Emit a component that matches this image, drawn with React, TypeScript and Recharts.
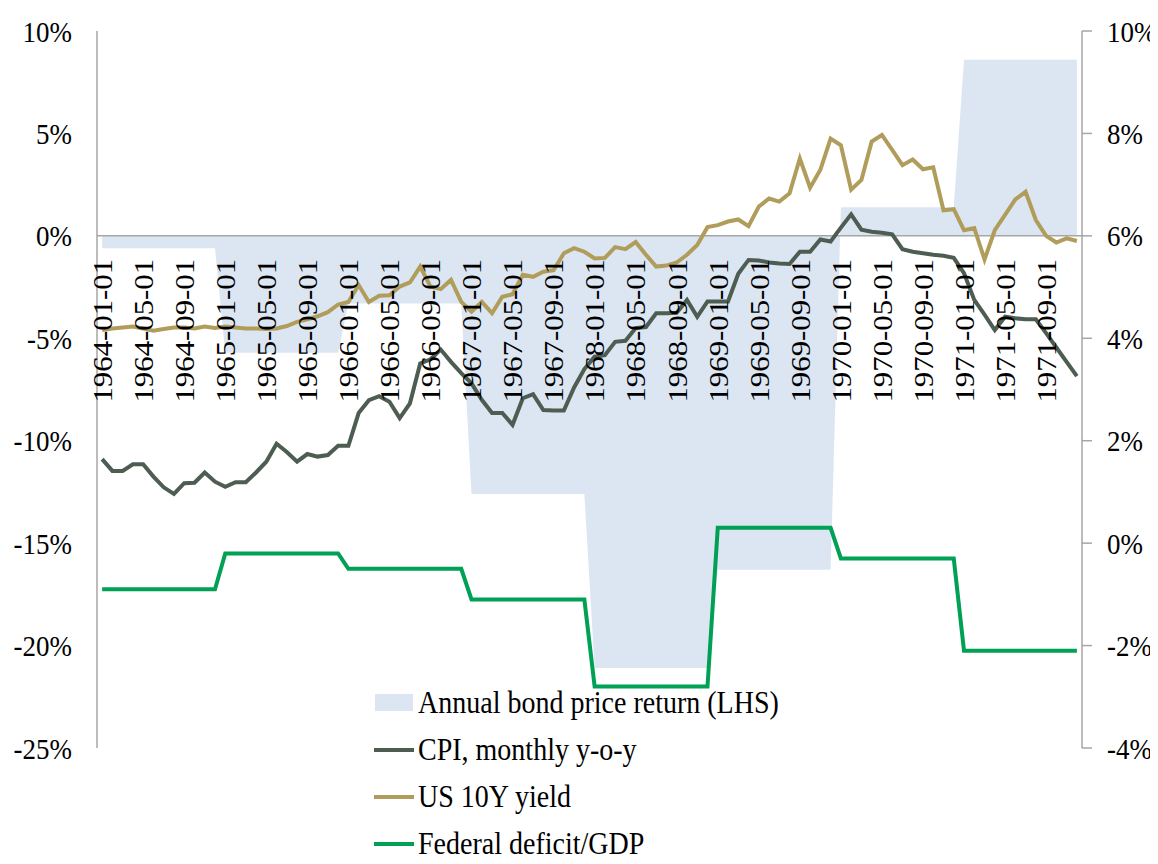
import {
  ComposedChart,
  Area,
  Line,
  XAxis,
  YAxis,
  ReferenceLine,
  ReferenceDot,
  Legend,
} from "recharts";

const FONT = '"Liberation Serif", "Times New Roman", serif';
const AREA_COLOR = "#dce6f2";
const CPI_COLOR = "#4d5d52";
const YIELD_COLOR = "#b19d5b";
const DEFICIT_COLOR = "#00a055";
const AXIS_COLOR = "#a6a6a6";
// the source text is drawn a little taller than it is wide
const STRETCH = 1.12;

// categories
const years = [1964, 1965, 1966, 1967, 1968, 1969, 1970, 1971];
const monthCodes = ["01", "02", "03", "04", "05", "06", "07", "08", "09", "10", "11", "12"];

// annual series (one value per calendar year)
const bondReturn = [-0.6, -5.7, -3.3, -12.6, -21.1, -16.3, 1.4, 8.6]; // LHS, %
const deficitGdp = [-0.9, -0.2, -0.5, -1.1, -2.8, 0.3, -0.3, -2.1]; // RHS, %

// monthly series (RHS, %)
const cpiYoy = [
  1.64, 1.41, 1.41, 1.54, 1.54, 1.3, 1.09, 0.96, 1.17, 1.18, 1.38, 1.2,
  1.1, 1.19, 1.19, 1.38, 1.59, 1.94, 1.78, 1.59, 1.74, 1.69, 1.72, 1.9,
  1.9, 2.54, 2.79, 2.87, 2.76, 2.44, 2.73, 3.51, 3.59, 3.78, 3.54, 3.32,
  3.12, 2.8, 2.54, 2.54, 2.31, 2.83, 2.91, 2.6, 2.59, 2.59, 3.04, 3.4,
  3.64, 3.67, 3.93, 3.95, 4.2, 4.22, 4.49, 4.49, 4.5, 4.75, 4.42, 4.72,
  4.72, 4.72, 5.26, 5.53, 5.52, 5.48, 5.46, 5.45, 5.69, 5.69, 5.93, 5.89,
  6.16, 6.42, 6.12, 6.08, 6.06, 6.03, 5.74, 5.69, 5.66, 5.63, 5.61, 5.57,
  5.27, 4.75, 4.46, 4.16, 4.42, 4.39, 4.37, 4.37, 4.1, 3.82, 3.54, 3.26,
];

const us10y = [
  4.16, 4.19, 4.21, 4.23, 4.19, 4.15, 4.18, 4.21, 4.21, 4.19, 4.23, 4.2,
  4.23, 4.21, 4.19, 4.19, 4.18, 4.19, 4.24, 4.32, 4.37, 4.43, 4.51, 4.66,
  4.71, 5.04, 4.71, 4.83, 4.84, 5.01, 5.09, 5.4, 5.01, 4.96, 5.14, 4.71,
  4.52, 4.71, 4.49, 4.81, 4.86, 5.24, 5.2, 5.3, 5.33, 5.66, 5.76, 5.69,
  5.56, 5.57, 5.78, 5.74, 5.88, 5.63, 5.4, 5.42, 5.48, 5.63, 5.82, 6.17,
  6.21, 6.28, 6.32, 6.19, 6.57, 6.73, 6.67, 6.83, 7.51, 6.94, 7.29, 7.9,
  7.77, 6.9, 7.09, 7.84, 7.97, 7.68, 7.38, 7.49, 7.3, 7.34, 6.5, 6.52,
  6.11, 6.15, 5.54, 6.11, 6.41, 6.71, 6.86, 6.31, 6.0, 5.87, 5.95, 5.9,
];

const leftTicks = [-25, -20, -15, -10, -5, 0, 5, 10];
const rightTicks = [-4, -2, 0, 2, 4, 6, 8, 10];

const dates = years.flatMap((y) => monthCodes.map((m) => `${y}-${m}-01`));
const labelDates = dates.filter((_, i) => i % 4 === 0);

const chartData = dates.map((date, i) => ({
  date,
  bond: bondReturn[Math.floor(i / 12)],
  cpi: cpiYoy[i],
  yield10: us10y[i],
  deficit: deficitGdp[Math.floor(i / 12)],
}));

const legendItems = [
  { label: "Annual bond price return (LHS)", color: AREA_COLOR, box: true },
  { label: "CPI, monthly y-o-y", color: CPI_COLOR, box: false },
  { label: "US 10Y yield", color: YIELD_COLOR, box: false },
  { label: "Federal deficit/GDP", color: DEFICIT_COLOR, box: false },
];

function ChartLegend() {
  return (
    <div style={{ fontFamily: FONT, fontSize: 28, color: "#000" }}>
      {legendItems.map((item) => (
        <div
          key={item.label}
          style={{ display: "flex", alignItems: "center", height: 47 }}
        >
          {item.box ? (
            <span
              style={{
                width: 38,
                height: 17,
                marginLeft: 1,
                marginRight: 5,
                background: item.color,
              }}
            />
          ) : (
            <span
              style={{
                width: 40,
                height: 4,
                marginRight: 4,
                background: item.color,
              }}
            />
          )}
          <span
            style={{
              display: "inline-block",
              lineHeight: 1,
              whiteSpace: "nowrap",
              transform: `scaleY(${STRETCH})`,
            }}
          >
            {item.label}
          </span>
        </div>
      ))}
    </div>
  );
}

const pct = (v: number) => `${v}%`;

function ValueTick({ x, y, payload, textAnchor }: any) {
  return (
    <text
      transform={`translate(${x},${y}) scale(1,${STRETCH})`}
      textAnchor={textAnchor}
      dy="0.35em"
      fontSize={27}
      fontFamily={FONT}
      fill="#000"
    >
      {pct(payload.value)}
    </text>
  );
}

// date labels hang below the zero line, rotated
function DateLabel({ cx, cy, text }: { cx: number; cy: number; text: string }) {
  return (
    <text
      transform={`translate(${cx},${cy + 23}) rotate(-90) scale(1.1,1)`}
      textAnchor="end"
      dy="0.35em"
      fontSize={28}
      fontFamily={FONT}
      fill="#000"
    >
      {text}
    </text>
  );
}

export default function App() {
  return (
    <ComposedChart
      width={1150}
      height={856}
      data={chartData}
      margin={{ top: 23, right: 0, bottom: 116, left: 9 }}
    >
      <XAxis dataKey="date" scale="band" hide height={0} />
      <YAxis
        yAxisId="left"
        domain={[-25, 10]}
        ticks={leftTicks}
        interval={0}
        width={80}
        axisLine={{ stroke: AXIS_COLOR, strokeWidth: 1.5 }}
        tickLine={false}
        tickSize={0}
        tickMargin={25}
        tick={<ValueTick />}
      />
      <YAxis
        yAxisId="right"
        orientation="right"
        domain={[-4, 10]}
        ticks={rightTicks}
        interval={0}
        width={76}
        axisLine={{ stroke: AXIS_COLOR, strokeWidth: 1.5 }}
        tickLine={{ stroke: AXIS_COLOR, strokeWidth: 1.5 }}
        tickSize={10}
        tickMargin={15}
        tick={<ValueTick />}
      />
      <Legend
        layout="vertical"
        verticalAlign="middle"
        align="center"
        content={() => <ChartLegend />}
        wrapperStyle={{ left: 366, top: 671, width: "auto" }}
      />
      <Area
        yAxisId="left"
        type="linear"
        dataKey="bond"
        baseValue={0}
        stroke="none"
        fill={AREA_COLOR}
        fillOpacity={1}
        isAnimationActive={false}
      />
      <ReferenceLine yAxisId="left" y={0} stroke={AXIS_COLOR} strokeWidth={1.5} />
      {labelDates.map((d) => (
        <ReferenceDot
          key={d}
          yAxisId="left"
          x={d}
          y={0}
          r={0}
          shape={(p: any) => <DateLabel cx={p.cx} cy={p.cy} text={d} />}
        />
      ))}
      <Line
        yAxisId="right"
        type="linear"
        dataKey="cpi"
        stroke={CPI_COLOR}
        strokeWidth={4}
        dot={false}
        isAnimationActive={false}
      />
      <Line
        yAxisId="right"
        type="linear"
        dataKey="yield10"
        stroke={YIELD_COLOR}
        strokeWidth={4}
        dot={false}
        isAnimationActive={false}
      />
      <Line
        yAxisId="right"
        type="linear"
        dataKey="deficit"
        stroke={DEFICIT_COLOR}
        strokeWidth={4}
        dot={false}
        isAnimationActive={false}
      />
    </ComposedChart>
  );
}
